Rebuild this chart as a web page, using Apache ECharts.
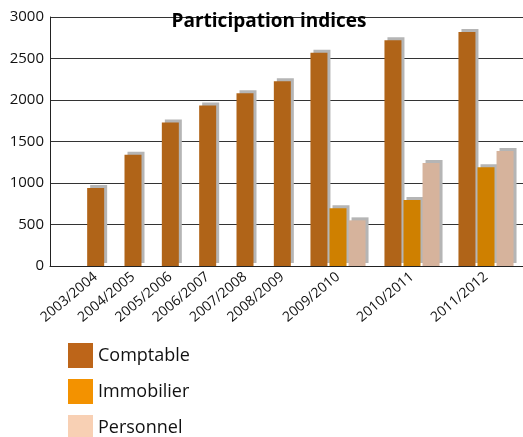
<!DOCTYPE html>
<html>
<head>
<meta charset="utf-8">
<script src="https://cdn.jsdelivr.net/npm/echarts@6/dist/echarts.min.js"></script>
<style>
  html, body { margin: 0; padding: 0; background: #fff; }
  #chart { width: 523px; height: 437px; }
</style>
</head>
<body>
<div id="chart"></div>
<script>
const categories = ['2003/2004', '2004/2005', '2005/2006', '2006/2007', '2007/2008', '2008/2009', '2009/2010', '2010/2011', '2011/2012'];
const comptable = [940, 1340, 1730, 1935, 2080, 2225, 2570, 2720, 2820];
const immobilier = [null, null, null, null, null, null, 695, 795, 1190];
const personnel = [null, null, null, null, null, null, 550, 1240, 1385];
const yTicks = [0, 500, 1000, 1500, 2000, 2500, 3000];

// years with only one series get narrow slots, years with three get wide ones
const split = immobilier.findIndex(v => v != null);

const barColors = { Comptable: '#b06418', Immobilier: '#cf8000', Personnel: '#d6b39c' };
const legendColors = { Comptable: '#bd6519', Immobilier: '#f39200', Personnel: '#f8d0b4' };
const font = '"Open Sans", "Noto Sans", sans-serif';

function bar(name, data, idx) {
    return {
        name: name,
        type: 'bar',
        xAxisIndex: idx,
        yAxisIndex: idx,
        data: data,
        barWidth: 17,
        barGap: '12%',
        itemStyle: {
            color: barColors[name],
            shadowColor: '#b5b5b5',
            shadowOffsetX: 3,
            shadowOffsetY: -3,
            shadowBlur: 0
        },
        emphasis: { disabled: true }
    };
}

function hiddenY(idx) {
    return { type: 'value', gridIndex: idx, min: 0, max: 3000, show: false };
}

function catX(idx, data) {
    return {
        type: 'category',
        gridIndex: idx,
        data: data,
        axisLine: { show: false },
        axisTick: { show: false },
        axisLabel: { rotate: 40, margin: 9, color: '#111', fontSize: 14, fontFamily: font, interval: 0 }
    };
}

const chart = echarts.init(document.getElementById('chart'));
chart.setOption({
    animation: false,
    title: {
        text: 'Participation indices',
        left: 264, top: 7, textAlign: 'center',
        textStyle: { fontFamily: font, fontWeight: 'bold', fontSize: 19, color: '#000' }
    },
    legend: {
        orient: 'vertical', left: 63, top: 338, height: 120,
        itemWidth: 25, itemHeight: 25, itemGap: 11,
        icon: 'rect',
        textStyle: { fontFamily: font, fontSize: 18, color: '#111' },
        data: ['Comptable', 'Immobilier', 'Personnel'].map(n => ({ name: n, itemStyle: { color: legendColors[n] } }))
    },
    grid: [
        { left: 50, right: 0, top: 17, bottom: 171 },
        { left: 77, width: 224, top: 17, bottom: 171 },
        { left: 301, right: 0, top: 17, bottom: 171 }
    ],
    xAxis: [
        { type: 'value', gridIndex: 0, min: 0, max: 1, axisLabel: { show: false }, axisTick: { show: false },
          splitLine: { show: false }, axisLine: { show: true, lineStyle: { color: '#222', width: 1 } } },
        catX(1, categories.slice(0, split)),
        catX(2, categories.slice(split))
    ],
    yAxis: [
        { type: 'value', gridIndex: 0, min: yTicks[0], max: yTicks[yTicks.length - 1], interval: yTicks[1] - yTicks[0],
          axisLine: { show: true, lineStyle: { color: '#222' } },
          axisTick: { show: false },
          axisLabel: { color: '#111', fontSize: 15, fontFamily: font, margin: 6, formatter: v => String(v) },
          splitLine: { lineStyle: { color: '#333', width: 1 } } },
        hiddenY(1),
        hiddenY(2)
    ],
    series: [
        bar('Comptable', comptable.slice(0, split), 1),
        bar('Comptable', comptable.slice(split), 2),
        bar('Immobilier', immobilier.slice(split), 2),
        bar('Personnel', personnel.slice(split), 2)
    ]
});
</script>
</body>
</html>
